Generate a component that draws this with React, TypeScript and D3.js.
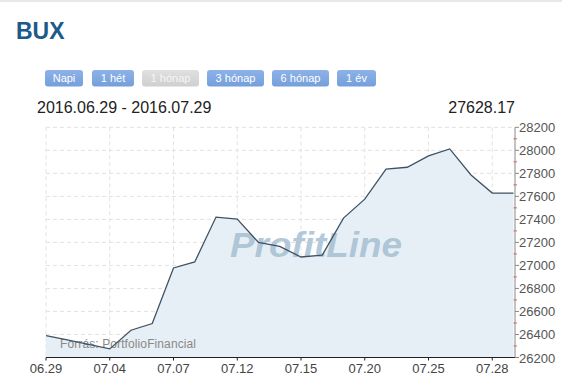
import React from "react";
import * as d3 from "d3";

const dates = ["06.29","06.30","07.01","07.04","07.05","07.06","07.07","07.08","07.11","07.12","07.13","07.14","07.15","07.18","07.19","07.20","07.21","07.22","07.25","07.26","07.27","07.28","07.29"];
const values = [26391,26353,26315,26275,26437,26495,26978,27030,27420,27402,27200,27165,27073,27090,27411,27576,27836,27853,27951,28012,27786,27628.17,27628.17];
const tickLabels = ["06.29","07.04","07.07","07.12","07.15","07.20","07.25","07.28"];
const yTicks = [26200,26400,26600,26800,27000,27200,27400,27600,27800,28000,28200];
const yMinor = [26300,26500,26700,26900,27100,27300,27500,27700,27900,28100];
const buttons = ["Napi","1 hét","1 hónap","3 hónap","6 hónap","1 év"];
const activeButton = "1 hónap";
const title = "BUX";
const rangeText = "2016.06.29 - 2016.07.29";
const lastValue = "27628.17";
const source = "Forrás: PortfolioFinancial";

export default function App() {
  const W = 562, H = 388;
  const left = 46, right = 515, top = 127.3, bottom = 357.5;
  const x = d3.scalePoint<string>().domain(dates).range([left, 513.5]);
  const y = d3.scaleLinear().domain([26200, 28200]).range([bottom, top]);
  const pts = dates.map((d, i) => ({ d, v: values[i] }));
  const line = d3.line<{ d: string; v: number }>().x(p => x(p.d)!).y(p => y(p.v));
  const area = d3.area<{ d: string; v: number }>().x(p => x(p.d)!).y0(bottom).y1(p => y(p.v));

  const btnX = [45, 92, 142, 207, 272, 337];
  const btnW = [38, 42, 57, 57, 57, 39];

  return (
    <svg width={W} height={H} style={{ position: "absolute", left: 0, top: 0, fontFamily: "Arial, 'Liberation Sans', sans-serif" }}>
      <defs>
        <linearGradient id="btn" x1="0" y1="0" x2="0" y2="1">
          <stop offset="0" stopColor="#8db2e8" />
          <stop offset="1" stopColor="#759fdb" />
        </linearGradient>
        <linearGradient id="btnG" x1="0" y1="0" x2="0" y2="1">
          <stop offset="0" stopColor="#e0e0e0" />
          <stop offset="1" stopColor="#cfcfcf" />
        </linearGradient>
      </defs>
      <rect x={0} y={0} width={W} height={H} fill="#fff" />
      <rect x={0} y={0} width={W} height={2} fill="#e8e8e8" />
      <text x={16} y={39} fontSize={23} fontWeight="bold" fill="#1b5a8a">{title}</text>
      {buttons.map((b, i) => {
        const active = b === activeButton;
        return (
          <g key={b}>
            <rect x={btnX[i]} y={70} width={btnW[i]} height={16.5} rx={3} fill={active ? "url(#btnG)" : "url(#btn)"} />
            <text x={btnX[i] + btnW[i] / 2} y={82} fontSize={11} textAnchor="middle" fill={active ? "#f6f6f6" : "#fff"}>{b}</text>
          </g>
        );
      })}
      <text x={37} y={113} fontSize={16} fill="#222">{rangeText}</text>
      <text x={515} y={113} fontSize={16} fill="#222" textAnchor="end">{lastValue}</text>

      {yTicks.map(t => (
        <line key={"h" + t} x1={left} x2={right} y1={y(t)} y2={y(t)} stroke="#e2e2e2" strokeDasharray="4,3" />
      ))}
      {tickLabels.map(t => (
        <line key={"v" + t} x1={x(t)!} x2={x(t)!} y1={top} y2={bottom} stroke="#e2e2e2" strokeDasharray="4,3" />
      ))}

      <path d={area(pts)!} fill="#e6eef6" opacity={0.95} />
      <text x={230} y={257} fontSize={35} fontWeight="bold" fontStyle="italic" fill="#a6bfd2" opacity={0.85} textLength={172} lengthAdjust="spacingAndGlyphs">ProfitLine</text>
      <text x={60} y={348.3} fontSize={12} fill="#888" textLength={136}>{source}</text>
      <path d={line(pts)!} fill="none" stroke="#3f5263" strokeWidth={1.3} />

      <line x1={left} x2={right} y1={bottom} y2={bottom} stroke="#222" strokeWidth={1.2} />
      {tickLabels.map(t => (
        <g key={"bt" + t}>
          <line x1={x(t)!} x2={x(t)!} y1={bottom} y2={bottom + 3} stroke="#222" />
          <text x={x(t)!} y={373} fontSize={13} textAnchor="middle" fill="#444">{t}</text>
        </g>
      ))}

      <line x1={right} x2={right} y1={top} y2={bottom} stroke="#888" />
      {yMinor.map(t => (
        <line key={"m" + t} x1={right - 1.5} x2={right + 2} y1={y(t)} y2={y(t)} stroke="#c86a6a" />
      ))}
      {yTicks.map(t => (
        <g key={"yt" + t}>
          <line x1={right} x2={right + 4} y1={y(t)} y2={y(t)} stroke="#888" />
          <text x={519} y={y(t) + 5} fontSize={13} fill="#555">{t}</text>
        </g>
      ))}
    </svg>
  );
}
